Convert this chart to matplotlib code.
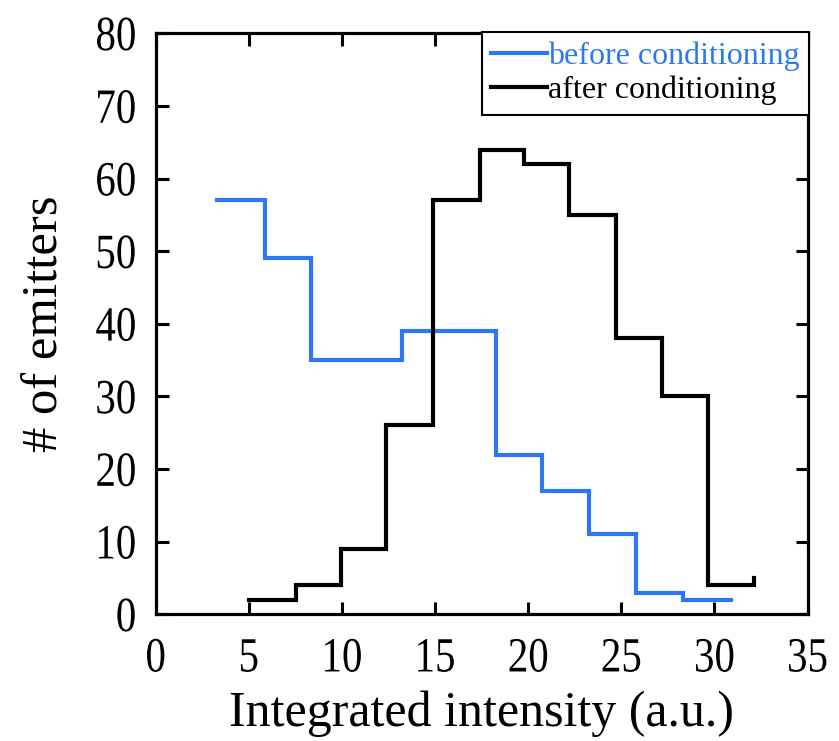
import matplotlib
matplotlib.use("Agg")
import matplotlib.pyplot as plt
from matplotlib.patheffects import AbstractPathEffect
from matplotlib.transforms import Affine2D

# Data (step edges and counts)
before_x = [3.3, 5.87, 8.33, 10.8, 13.24, 15.75, 18.27, 20.76, 23.26, 25.8, 28.3, 30.87]
before_y = [57, 49, 35, 35, 39, 39, 22, 17, 11, 3, 2, 2]
after_x = [5.0, 7.52, 9.95, 12.37, 14.9, 17.4, 19.76, 22.17, 24.71, 27.19, 29.66, 32.15]
after_y = [2, 4, 9, 26, 57, 64, 62, 55, 38, 30, 4, 5]

x_ticks = [0, 5, 10, 15, 20, 25, 30, 35]
y_ticks = [0, 10, 20, 30, 40, 50, 60, 70, 80]


class VStretch(AbstractPathEffect):
    """Stretch glyphs vertically (in text-local coordinates)."""
    def __init__(self, k, cy=34.0):
        super().__init__()
        self.k = k
        self.cy = cy

    def draw_path(self, renderer, gc, tpath, affine, rgbFace=None):
        pre = Affine2D().translate(0, -self.cy).scale(1, self.k).translate(0, self.cy)
        renderer.draw_path(gc, tpath, pre + affine, rgbFace)


plt.rcParams['font.family'] = ['Liberation Serif', 'DejaVu Serif']

fig = plt.figure(figsize=(8.39, 7.41), dpi=100)
ax = fig.add_axes([0.1855, 0.171, 0.777, 0.784])

blue = '#2D78F0'
ax.plot(before_x, before_y, drawstyle='steps-post', color=blue, lw=3.0,
        label='before conditioning', solid_joinstyle='miter')
ax.plot(after_x, after_y, drawstyle='steps-post', color='black', lw=3.0,
        label='after conditioning', solid_joinstyle='miter')

ax.set_xlim(0, 35)
ax.set_ylim(0, 80)
ax.set_xticks(x_ticks)
ax.set_yticks(y_ticks)
ax.tick_params(direction='in', length=9, width=2.2, top=True, right=True,
               labelsize=29.5)
ax.tick_params(axis='x', pad=19)
ax.tick_params(axis='y', pad=14)
for s in ax.spines.values():
    s.set_linewidth(2.3)

for lab in ax.get_xticklabels() + ax.get_yticklabels():
    lab.set_path_effects([VStretch(1.2)])

ax.set_xlabel('Integrated intensity (a.u.)', fontsize=36, labelpad=9)
ax.set_ylabel('# of emitters', fontsize=36.5, labelpad=19)

leg = ax.legend(loc='upper right', bbox_to_anchor=(1.002, 1.003), borderaxespad=0,
                fontsize=23, handlelength=1.75, handletextpad=0.02,
                labelspacing=0.15, borderpad=0.3, fancybox=False,
                framealpha=1, edgecolor='black')
leg.get_frame().set_linewidth(1.5)
for t, c in zip(leg.get_texts(), [blue, 'black']):
    t.set_color(c)
for h in leg.get_lines():
    h.set_linewidth(3.0)

fig.savefig('out.png', dpi=100)
